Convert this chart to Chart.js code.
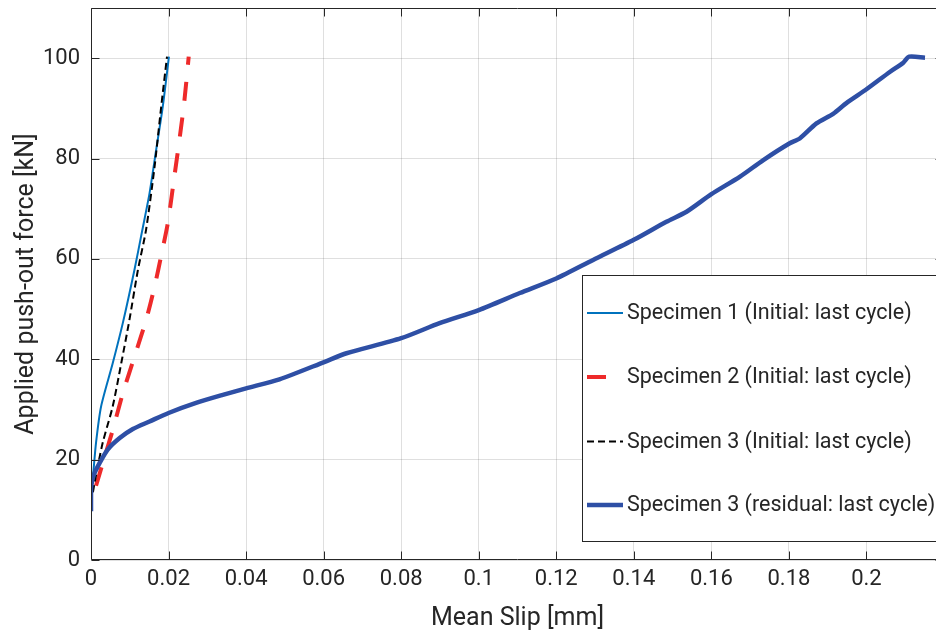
<!DOCTYPE html>
<html>
<head>
<meta charset="utf-8">
<script src="https://cdn.jsdelivr.net/npm/chart.js@4.4.1/dist/chart.umd.min.js"></script>
<style>
html,body{margin:0;padding:0;overflow:hidden;background:#fff;}
#wrap{width:960px;height:636px;}
</style>
</head>
<body>
<div id="wrap"><canvas id="c" width="960" height="636"></canvas></div>
<script>
// ---- data ----
const xTicks = [0, 0.02, 0.04, 0.06, 0.08, 0.1, 0.12, 0.14, 0.16, 0.18, 0.2];
const xTickLabels = ['0', '0.02', '0.04', '0.06', '0.08', '0.1', '0.12', '0.14', '0.16', '0.18', '0.2'];
const yTicks = [0, 20, 40, 60, 80, 100];
const yTickLabels = ['0', '20', '40', '60', '80', '100'];

const seriesNames = [
  'Specimen 1 (Initial: last cycle)',
  'Specimen 2 (Initial: last cycle)',
  'Specimen 3 (Initial: last cycle)',
  'Specimen 3 (residual: last cycle)'
];

const spec1Slip  = [0.0003, 0.0005, 0.0013, 0.0026, 0.0056, 0.0082, 0.0112, 0.0132, 0.0151, 0.0168, 0.0185, 0.0201];
const spec1Force = [15.5, 16.6, 23.4, 30.6, 39.2, 47.2, 57.8, 65.6, 73.1, 81.7, 90.3, 100.3];

const spec2Slip  = [0.0013, 0.0035, 0.0056, 0.0082, 0.0112, 0.0142, 0.0164, 0.0182, 0.0198, 0.0215, 0.0228, 0.0241, 0.0252];
const spec2Force = [14.8, 20.5, 25.9, 33.2, 40.5, 47.8, 54.5, 61.0, 67.1, 76.4, 83.7, 91.6, 100.3];

const spec3Slip  = [0.0005, 0.0009, 0.0030, 0.0056, 0.0078, 0.0099, 0.0121, 0.0142, 0.0164, 0.0181, 0.0196];
const spec3Force = [13.5, 15.3, 23.3, 30.6, 39.2, 47.8, 57.8, 65.8, 78.4, 90.3, 100.3];

const resSlip  = [0, 0, 0.0003, 0.0009, 0.0022, 0.0043, 0.0074, 0.0108, 0.0151, 0.0200, 0.0271, 0.0340, 0.0400, 0.0486, 0.0603, 0.0659, 0.0800, 0.0899, 0.1000, 0.1106, 0.1200, 0.1295, 0.1400, 0.1484, 0.1536, 0.1600, 0.1674, 0.1734, 0.1801, 0.1828, 0.1871, 0.1914, 0.1949, 0.2000, 0.2061, 0.2095, 0.2110, 0.2151];
const resForce = [9.7, 14.0, 15.8, 17.3, 19.3, 22.0, 24.3, 26.1, 27.6, 29.3, 31.3, 32.9, 34.2, 36.0, 39.5, 41.2, 44.2, 47.2, 49.8, 53.2, 56.1, 59.8, 63.8, 67.4, 69.4, 72.9, 76.4, 79.7, 83.0, 84.0, 87.0, 88.9, 91.1, 93.8, 97.3, 99.1, 100.3, 100.1];

const pts = (xs, ys) => xs.map((x, i) => ({x: x, y: ys[i]}));

const FONT = 'Roboto, "Liberation Sans", sans-serif';
const AX = '#262626';

const styles = [
  {color: '#0072BD', width: 2, dash: []},
  {color: '#EE2A2A', width: 4, dash: [19, 17]},
  {color: '#000000', width: 2, dash: [7, 4]},
  {color: '#2E4FA5', width: 4.5, dash: []}
];

const datasets = [
  {label: seriesNames[3], data: pts(resSlip, resForce), order: 0},
  {label: seriesNames[2], data: pts(spec3Slip, spec3Force), order: 1},
  {label: seriesNames[1], data: pts(spec2Slip, spec2Force), order: 2},
  {label: seriesNames[0], data: pts(spec1Slip, spec1Force), order: 3}
];
const styleIdx = [3, 2, 1, 0];
datasets.forEach((d, i) => {
  const s = styles[styleIdx[i]];
  Object.assign(d, {
    showLine: true, borderColor: s.color, backgroundColor: s.color,
    borderWidth: s.width, borderDash: s.dash, pointRadius: 0,
    tension: 0.25, fill: false, borderCapStyle: 'butt', borderJoinStyle: 'round'
  });
});

const frame = {
  id: 'frame',
  afterDatasetsDraw(chart) {
    const ctx = chart.ctx, a = chart.chartArea;
    const xs = chart.scales.x, ys = chart.scales.y;
    ctx.save();
    ctx.strokeStyle = AX; ctx.lineWidth = 1; ctx.setLineDash([]);
    const L = Math.round(a.left) + 0.5, R = Math.round(a.right) - 0.5;
    const T = Math.round(a.top) + 0.5, B = Math.round(a.bottom) - 0.5;
    ctx.beginPath();
    ctx.rect(L, T, R - L, B - T);
    const tl = 8;
    xTicks.forEach(v => {
      const px = Math.round(xs.getPixelForValue(v)) + 0.5;
      ctx.moveTo(px, B); ctx.lineTo(px, B - tl);
      ctx.moveTo(px, T); ctx.lineTo(px, T + tl);
    });
    yTicks.forEach(v => {
      const py = Math.round(ys.getPixelForValue(v)) + 0.5;
      ctx.moveTo(L, py); ctx.lineTo(L + tl, py);
      ctx.moveTo(R, py); ctx.lineTo(R - tl, py);
    });
    ctx.stroke();

    // legend
    const bx = 582.5, by = 275.5, bw = 380, bh = 266;
    ctx.fillStyle = '#ffffff';
    ctx.fillRect(bx, by, bw, bh);
    ctx.strokeStyle = AX; ctx.lineWidth = 1;
    ctx.strokeRect(bx, by, bw, bh);
    const rows = [313, 377, 441.5, 505];
    ctx.font = '21.5px ' + FONT;
    ctx.textBaseline = 'middle';
    ctx.textAlign = 'left';
    seriesNames.forEach((name, i) => {
      const s = styles[i];
      ctx.beginPath();
      ctx.strokeStyle = s.color; ctx.lineWidth = s.width;
      ctx.setLineDash(s.dash); ctx.lineCap = 'butt';
      ctx.moveTo(587, rows[i]); ctx.lineTo(623, rows[i]);
      ctx.stroke();
      ctx.setLineDash([]);
      ctx.fillStyle = AX;
      ctx.fillText(name, 627, rows[i] + 1);
    });
    ctx.restore();
  }
};

new Chart(document.getElementById('c'), {
  type: 'scatter',
  data: {datasets: datasets},
  options: {
    responsive: false,
    devicePixelRatio: 1,
    animation: false,
    layout: {padding: {top: 8, right: 16, left: 0, bottom: 0}},
    plugins: {legend: {display: false}, tooltip: {enabled: false}},
    scales: {
      x: {
        type: 'linear', min: 0, max: 0.22,
        afterFit(s) { s.height = 76; s.paddingLeft = 0; s.paddingRight = 0; },
        afterBuildTicks(s) { s.ticks = xTicks.map(v => ({value: v})); },
        ticks: {
          callback: (v, i) => xTickLabels[i],
          font: {family: FONT, size: 22}, color: AX, padding: 6, maxRotation: 0, autoSkip: false
        },
        grid: {color: 'rgba(38,38,38,0.15)', lineWidth: 1, drawTicks: false},
        border: {display: false},
        title: {display: true, text: 'Mean Slip [mm]', font: {family: FONT, size: 25}, color: AX, padding: {top: 0, bottom: 2}}
      },
      y: {
        type: 'linear', min: 0, max: 110,
        afterFit(s) { s.width = 91; s.paddingTop = 0; s.paddingBottom = 0; },
        afterBuildTicks(s) { s.ticks = yTicks.map(v => ({value: v})); },
        ticks: {
          callback: (v, i) => yTickLabels[i],
          font: {family: FONT, size: 22}, color: AX, padding: 11
        },
        grid: {color: 'rgba(38,38,38,0.15)', lineWidth: 1, drawTicks: false},
        border: {display: false},
        title: {display: true, text: 'Applied push-out force [kN]', font: {family: FONT, size: 25}, color: AX, padding: {top: 12, bottom: 0}}
      }
    }
  },
  plugins: [frame]
});
</script>
</body>
</html>
